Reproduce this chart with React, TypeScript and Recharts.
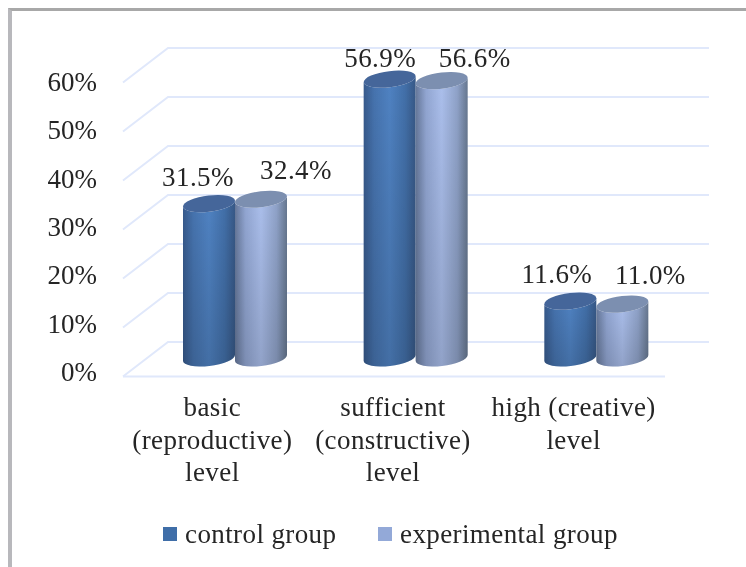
import React from "react";
import { ComposedChart, Bar, XAxis, YAxis, Legend, LabelList, CartesianGrid } from "recharts";

const categories = ["basic|(reproductive)|level", "sufficient|(constructive)|level", "high (creative)|level"];
const controlValues = [31.5, 56.9, 11.6];
const experimentalValues = [32.4, 56.6, 11.0];
const yTicks = [0, 10, 20, 30, 40, 50, 60];
const controlName = "control group";
const experimentalName = "experimental group";

const chartData = categories.map((c, i) => ({
  category: c,
  control: controlValues[i],
  experimental: experimentalValues[i],
}));

const FONT = '"Liberation Serif", serif';
const TEXT = "#252525";
const GRID = "#e0e8fb";
const DEPTH_SHIFT = 18;
const LETTER = 0.4;
const CONTROL_LABEL_DX = [-11, -9.5, -13.5];
const EXPERIMENTAL_LABEL_DX = [35, 33, 28];

function Cylinder(props: any) {
  const { x, y, width, height, kind } = props;
  const rx = width / 2;
  const ry = 8;
  const tilt = 3;
  const yT = y - DEPTH_SHIFT;
  const yB = y + height - DEPTH_SHIFT;
  const xL = x;
  const xR = x + width;
  const body = `M${xL} ${yT + tilt} A${rx} ${ry} -7 0 0 ${xR} ${yT - tilt} L${xR} ${yB - tilt} A${rx} ${ry} -7 0 1 ${xL} ${yB + tilt} Z`;
  const cap = `M${xL} ${yT + tilt} A${rx} ${ry} -7 0 0 ${xR} ${yT - tilt} A${rx} ${ry} -7 0 0 ${xL} ${yT + tilt} Z`;
  return (
    <g>
      <path d={body} fill={`url(#${kind}Body)`} />
      <path d={body} fill="url(#shadeDown)" />
      <path d={cap} fill={kind === "dark" ? "#45669a" : "#7c8fb0"} />
    </g>
  );
}

function GridLine(props: any) {
  const y = props.y1;
  const isFloor = Math.abs(y - 376) < 1;
  return (
    <g>
      <polyline points={`123,${y + 0.5} 168,${y - 34} 709,${y - 34}`} fill="none" stroke={GRID} strokeWidth={2} />
      {isFloor ? <line x1={123} x2={665} y1={y + 0.5} y2={y + 0.5} stroke={GRID} strokeWidth={2} /> : null}
    </g>
  );
}

function YTick(props: any) {
  const { y, payload } = props;
  const labelY = 372 - ((372 - 82) * (376 - y)) / 294;
  return (
    <text x={97} y={labelY + 9} textAnchor="end" fontFamily={FONT} fontSize={27} fill={TEXT}>
      {payload.value}%
    </text>
  );
}

function XTick(props: any) {
  const { x, payload } = props;
  const lines = String(payload.value).split("|");
  return (
    <g>
      {lines.map((l: string, i: number) => (
        <text key={l} x={x - 23} y={416 + i * 32.5} textAnchor="middle" fontFamily={FONT} fontSize={27} letterSpacing={LETTER} fill={TEXT}>
          {l}
        </text>
      ))}
    </g>
  );
}

const makeLabel = (dxs: number[], dy: number) => (props: any) => {
  const { x, y, width, value, index } = props;
  const big = value > 50;
  return (
    <text
      x={x + width / 2 + dxs[index]}
      y={y - DEPTH_SHIFT - (big ? 12 : 18) + dy}
      textAnchor="middle"
      fontFamily={FONT}
      fontSize={27}
      letterSpacing={LETTER}
      fill={TEXT}
    >
      {Number(value).toFixed(1)}%
    </text>
  );
};

function LegendContent(props: any) {
  const items = props.payload || [];
  const swatchX = [163, 378];
  return (
    <div style={{ position: "relative", width: 746, height: 40, fontFamily: FONT, fontSize: 27, letterSpacing: LETTER, color: TEXT }}>
      {items.map((it: any, i: number) => (
        <React.Fragment key={it.value}>
          <span
            style={{
              position: "absolute",
              left: swatchX[i],
              top: 12,
              width: 14,
              height: 14,
              background: it.color,
            }}
          />
          <span style={{ position: "absolute", left: swatchX[i] + 22, top: 4, whiteSpace: "nowrap", lineHeight: "30px" }}>
            {it.value}
          </span>
        </React.Fragment>
      ))}
    </div>
  );
}

export default function App() {
  return (
    <div style={{ position: "absolute", left: 0, top: 0, width: 746, height: 567, background: "#fff", overflow: "hidden", filter: "blur(0.45px)" }}>
      <div style={{ position: "absolute", left: 8, top: 8, right: 0, bottom: 0, borderLeft: "4px solid #b8b8bc", borderTop: "3px solid #a8a8a8" }} />
      <svg width={1} height={1} style={{ position: "absolute", left: 0, top: 0 }}>
        <defs>
          <linearGradient id="darkBody" x1="0" x2="1" y1="0" y2="0">
            <stop offset="0" stopColor="#375a8c" />
            <stop offset="0.2" stopColor="#4673ae" />
            <stop offset="0.5" stopColor="#4f82c2" />
            <stop offset="0.8" stopColor="#426fa8" />
            <stop offset="1" stopColor="#375886" />
          </linearGradient>
          <linearGradient id="lightBody" x1="0" x2="1" y1="0" y2="0">
            <stop offset="0" stopColor="#66789a" />
            <stop offset="0.2" stopColor="#92a6d2" />
            <stop offset="0.5" stopColor="#abbfec" />
            <stop offset="0.8" stopColor="#8fa2c8" />
            <stop offset="1" stopColor="#66778f" />
          </linearGradient>
          <linearGradient id="shadeDown" x1="0" x2="0" y1="0" y2="1">
            <stop offset="0" stopColor="#000" stopOpacity="0" />
            <stop offset="1" stopColor="#000" stopOpacity="0.15" />
          </linearGradient>
        </defs>
      </svg>
      <ComposedChart
        width={746}
        height={567}
        data={chartData}
        margin={{ top: 82, right: 59, bottom: 0, left: 0 }}
        barGap={0}
        barSize={52}
        style={{ position: "absolute", left: 0, top: 0 }}
      >
        <CartesianGrid vertical={false} horizontal={<GridLine />} horizontalValues={yTicks} />
        <YAxis width={145} domain={[0, 60]} ticks={yTicks} axisLine={false} tickLine={false} tick={<YTick />} interval={0} />
        <XAxis dataKey="category" height={151} axisLine={false} tickLine={false} tick={<XTick />} interval={0} />
        <Legend
          height={40}
          verticalAlign="bottom"
          content={<LegendContent />}
          wrapperStyle={{ left: 0, top: 515, width: 746, height: 40 }}
        />
        <Bar dataKey="control" name={controlName} fill="#3f6ea8" isAnimationActive={false} shape={(p: any) => <Cylinder {...p} kind="dark" />}>
          <LabelList dataKey="control" content={makeLabel(CONTROL_LABEL_DX, 0)} />
        </Bar>
        <Bar dataKey="experimental" name={experimentalName} fill="#93a9d8" isAnimationActive={false} shape={(p: any) => <Cylinder {...p} kind="light" />}>
          <LabelList dataKey="experimental" content={makeLabel(EXPERIMENTAL_LABEL_DX, -2)} />
        </Bar>
      </ComposedChart>
    </div>
  );
}
